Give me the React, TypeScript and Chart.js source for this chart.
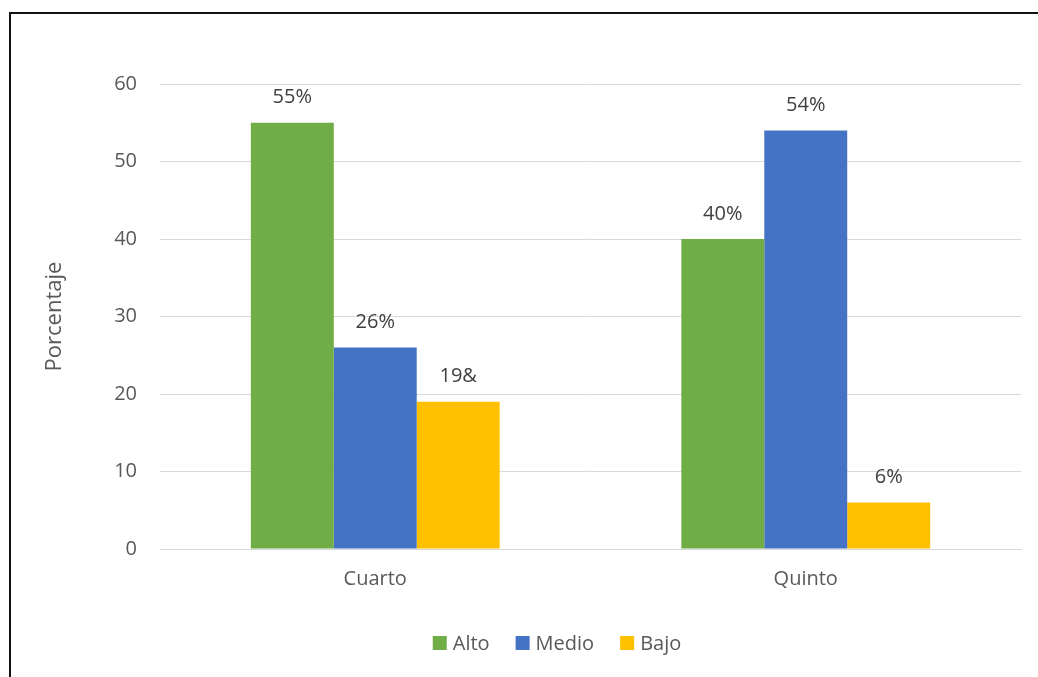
import React, { useEffect, useRef } from "react";
import { Chart, registerables } from "chart.js";

Chart.register(...registerables);

const categories = ["Cuarto", "Quinto"];
const seriesNames = ["Alto", "Medio", "Bajo"];
const altoValues = [55, 40];
const medioValues = [26, 54];
const bajoValues = [19, 6];
const altoLabels = ["55%", "40%"];
const medioLabels = ["26%", "54%"];
const bajoLabels = ["19&", "6%"];
const seriesColors = ["#70AD47", "#4472C4", "#FFC000"];
const yAxisTitle = "Porcentaje";

const FONT = "'Open Sans', 'Noto Sans', sans-serif";

const valueLabelPlugin = {
  id: "valueLabels",
  afterDatasetsDraw(chart: any) {
    const ctx = chart.ctx;
    ctx.save();
    ctx.font = `20px ${FONT}`;
    ctx.fillStyle = "#404040";
    ctx.textAlign = "center";
    ctx.textBaseline = "middle";
    chart.data.datasets.forEach((ds: any, di: number) => {
      const meta = chart.getDatasetMeta(di);
      meta.data.forEach((bar: any, i: number) => {
        ctx.fillText(ds.valueLabels[i], bar.x, bar.y - 25);
      });
    });
    ctx.restore();
  },
};

const customLegendPlugin = {
  id: "customLegend",
  afterDraw(chart: any) {
    const ctx = chart.ctx;
    ctx.save();
    ctx.font = `20px ${FONT}`;
    ctx.textBaseline = "middle";
    ctx.textAlign = "left";
    const box = 14;
    const gap = 6;
    const spacing = 26;
    const items = chart.data.datasets.map((ds: any) => ({
      label: ds.label,
      color: ds.backgroundColor,
      w: ctx.measureText(ds.label).width,
    }));
    const total =
      items.reduce((s: number, it: any) => s + box + gap + it.w, 0) +
      spacing * (items.length - 1);
    const centerX = 557;
    const cy = 643;
    let x = centerX - total / 2;
    items.forEach((it: any) => {
      ctx.fillStyle = it.color;
      ctx.fillRect(x, cy - box / 2, box, box);
      ctx.fillStyle = "#595959";
      ctx.fillText(it.label, x + box + gap, cy + 1);
      x += box + gap + it.w + spacing;
    });
    ctx.restore();
  },
};

export default function App() {
  const canvasRef = useRef<HTMLCanvasElement | null>(null);

  useEffect(() => {
    if (!canvasRef.current) return;
    const values = [altoValues, medioValues, bajoValues];
    const labels = [altoLabels, medioLabels, bajoLabels];
    const chart = new Chart(canvasRef.current, {
      type: "bar",
      data: {
        labels: categories,
        datasets: seriesNames.map((name, i) => ({
          label: name,
          data: values[i],
          valueLabels: labels[i],
          backgroundColor: seriesColors[i],
          borderWidth: 0,
          barPercentage: 1,
          categoryPercentage: 0.578,
        })) as any,
      },
      options: {
        animation: false,
        responsive: false,
        maintainAspectRatio: false,
        layout: { padding: { top: 84, right: 17, bottom: 0, left: 0 } },
        plugins: {
          legend: { display: false },
          tooltip: { enabled: false },
          title: { display: false },
        },
        scales: {
          x: {
            grid: { display: false, drawTicks: false },
            border: { display: true, color: "#D9D9D9", width: 1 },
            ticks: {
              color: "#595959",
              font: { family: FONT, size: 20 },
              padding: 18,
            },
            afterFit(scale: any) {
              scale.height = 128;
            },
          },
          y: {
            min: 0,
            max: 60,
            ticks: {
              stepSize: 10,
              color: "#595959",
              font: { family: FONT, size: 20 },
              padding: 23,
            },
            grid: { color: "#D9D9D9", lineWidth: 1, drawTicks: false },
            border: { display: false },
            title: {
              display: true,
              text: yAxisTitle,
              color: "#595959",
              font: { family: FONT, size: 22 },
              padding: { top: 42, bottom: 0 },
            },
            afterFit(scale: any) {
              scale.width = 160;
            },
          },
        },
      },
      plugins: [valueLabelPlugin, customLegendPlugin],
    });
    return () => chart.destroy();
  }, []);

  return (
    <div
      style={{
        position: "fixed",
        left: 0,
        top: 0,
        width: 1038,
        height: 677,
        overflow: "hidden",
        background: "#fff",
      }}
    >
      <div
        style={{
          position: "absolute",
          left: 9,
          top: 12,
          width: 1200,
          height: 900,
          borderTop: "2px solid #111",
          borderLeft: "2px solid #111",
        }}
      />
      <canvas
        ref={canvasRef}
        width={1038}
        height={677}
        style={{ position: "absolute", left: 0, top: 0, width: 1038, height: 677 }}
      />
    </div>
  );
}
